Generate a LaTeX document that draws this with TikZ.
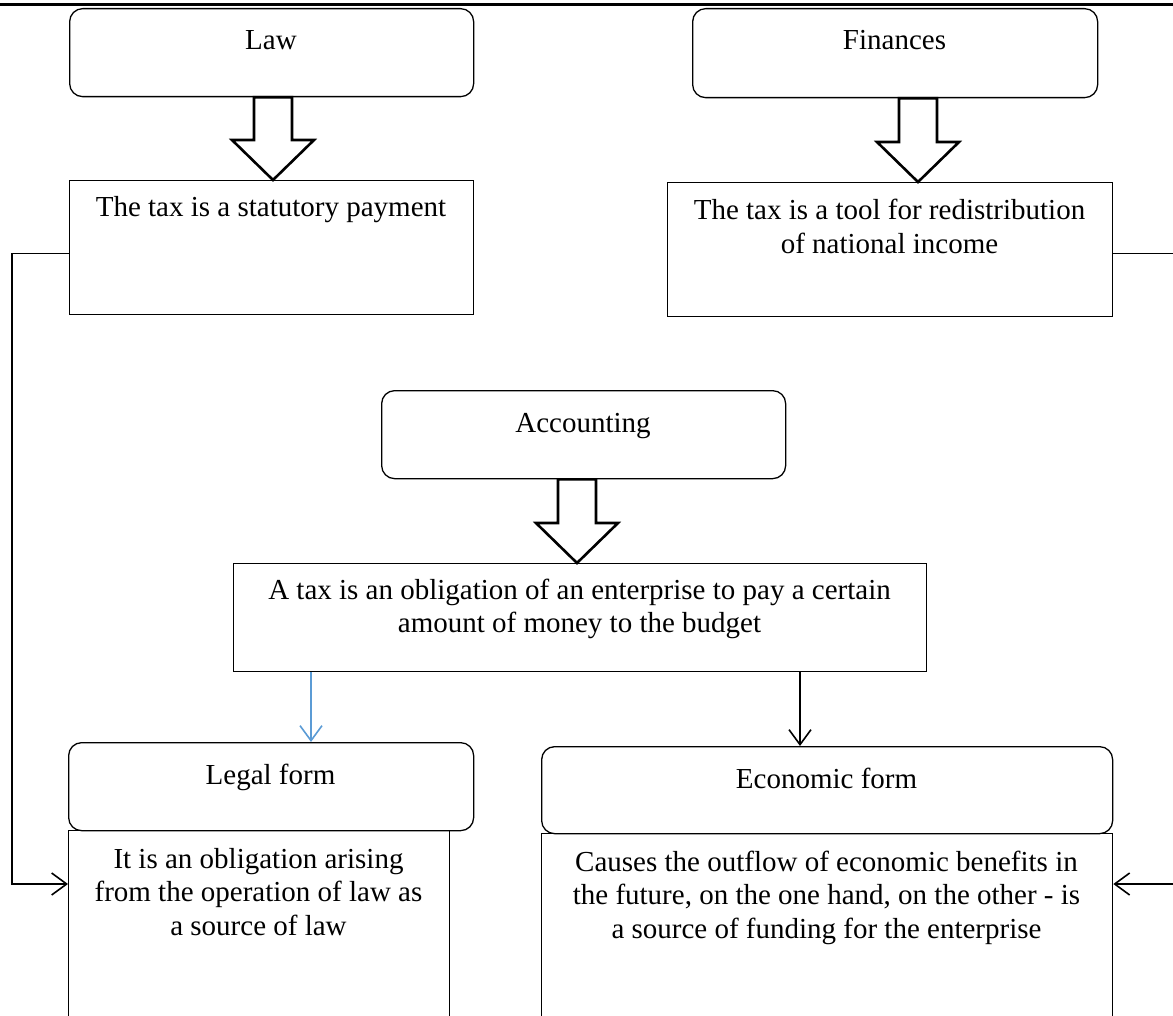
\documentclass[tikz,border=0pt]{standalone}
\usepackage{fontspec}
\setmainfont{Liberation Serif}
\usetikzlibrary{arrows.meta,calc}
\definecolor{bluearrow}{HTML}{5B9BD5}
\tikzset{
  box/.style={draw, line width=1.3pt, inner sep=0pt, anchor=north west},
  rbox/.style={box, rounded corners=13pt},
  txt/.style={font=\fontsize{29}{33.5}\selectfont, align=center, inner sep=0pt, anchor=base},
  blockarr/.style={draw, line width=2.6pt, fill=white, line join=miter},
  conn/.style={line width=1.6pt, -{Straight Barb[length=15pt,width=22pt]}},
}
\newcommand\blockarrow[3]{%
  \draw[blockarr] let \p1=(#2.south), \p2=(#3.north) in
    (#1pt-19pt,\y1) -- (#1pt-19pt,\y2+40pt) -- (#1pt-41pt,\y2+40pt) -- (#1pt,\y2)
    -- (#1pt+41pt,\y2+40pt) -- (#1pt+19pt,\y2+40pt) -- (#1pt+19pt,\y1) -- cycle;}
\begin{document}
\begin{tikzpicture}[x=1pt,y=-1pt]
\useasboundingbox (0,0) rectangle (1173,1016);
\clip (0,0) rectangle (1173,1016);
\draw[line width=3pt] (0,5) -- (1173,5);
% boxes
\node[rbox, minimum width=404pt, minimum height=88pt] (law) at (69,8) {};
\node[rbox, minimum width=405pt, minimum height=89pt] (fin) at (692,8) {};
\node[box, minimum width=404pt, minimum height=134pt] (stat) at (69,180) {};
\node[box, minimum width=445pt, minimum height=134pt] (redis) at (667,182) {};
\node[rbox, minimum width=404pt, minimum height=88pt] (acc) at (381,390) {};
\node[box, minimum width=693pt, minimum height=108pt] (oblig) at (233,563) {};
\node[rbox, minimum width=405pt, minimum height=88pt] (legf) at (68,742) {};
\node[box, minimum width=381pt, minimum height=220pt] (legc) at (68,830) {};
\node[rbox, minimum width=571pt, minimum height=87pt] (ecof) at (541,746) {};
\node[box, minimum width=571pt, minimum height=220pt] (ecoc) at (541,833) {};
% texts (base anchor = baseline of the last line)
\node[txt] (lawT) at (271,50) {Law};
\node[txt] (finT) at (894.5,50) {Finances};
\node[txt] (statT) at (271,217) {The tax is a statutory payment};
\node[txt] (redisT) at (889.5,253.5) {The tax is a tool for redistribution\\of national income};
\node[txt] (accT) at (583,432) {Accounting};
\node[txt] (obligT) at (579.5,632.5) {A tax is an obligation of an enterprise to pay a certain\\amount of money to the budget};
\node[txt] (legfT) at (270.5,784) {Legal form};
\node[txt] (ecofT) at (826.5,788) {Economic form};
\node[txt] (legcT) at (258.5,935) {It is an obligation arising\\from the operation of law as\\a source of law};
\node[txt] (ecocT) at (826.5,938) {Causes the outflow of economic benefits in\\the future, on the one hand, on the other - is\\a source of funding for the enterprise};
% block arrows
\blockarrow{273}{law}{stat}
\blockarrow{918}{fin}{redis}
\blockarrow{577}{acc}{oblig}
% thin arrows
\coordinate (bx) at (311,0);
\coordinate (kx) at (800,0);
\draw[conn, draw=bluearrow] (bx |- oblig.south) -- (bx |- legf.north);
\draw[conn] (kx |- oblig.south) -- (kx |- ecof.north);
% side connectors
\coordinate (la) at ($(legc.north west)+(0,54)$);
\coordinate (lbend) at (12,884);
\draw[conn] ([yshift=-6pt]stat.west) -| (lbend) -- (la);
\coordinate (ra) at ($(ecoc.north east)+(0,51)$);
\coordinate (rbend) at (1190,884);
\draw[conn] ([yshift=-4pt]redis.east) -| (rbend) -- (ra);
\end{tikzpicture}
\end{document}
